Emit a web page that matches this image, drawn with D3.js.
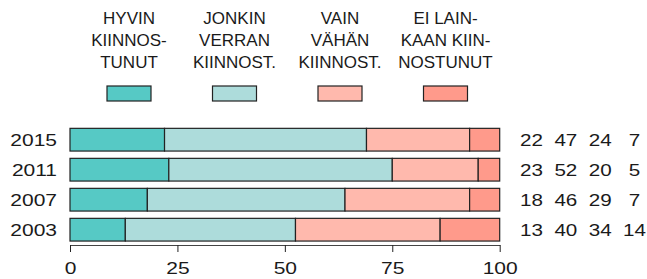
<!DOCTYPE html>
<html>
<head>
<style>
  body { margin: 0; background: #fff; }
  text { font-family: "Liberation Sans", Arial, sans-serif; fill: #1a1a1a; }
</style>
<script src="https://d3js.org/d3.v7.min.js"></script>
</head>
<body>
<script>
const years = ["2015", "2011", "2007", "2003"];
const categories = ["HYVIN KIINNOSTUNUT", "JONKIN VERRAN", "VAIN VÄHÄN", "EI LAINKAAN"];
const legendLines = [
  ["HYVIN", "KIINNOS-", "TUNUT"],
  ["JONKIN", "VERRAN", "KIINNOST."],
  ["VAIN", "VÄHÄN", "KIINNOST."],
  ["EI LAIN-", "KAAN KIIN-", "NOSTUNUT"]
];
const values = [
  [22, 47, 24, 7],
  [23, 52, 20, 5],
  [18, 46, 29, 7],
  [13, 40, 34, 14]
];
const tickValues = [0, 25, 50, 75, 100];
const colors = ["#56c9c5", "#addcdb", "#ffb9ad", "#ff9a8b"];

const w = 647, h = 279;
const stretch = 1.25;

const svg = d3.select("body").append("svg")
  .attr("width", w).attr("height", h);

const x = d3.scaleLinear().domain([0, 100]).range([70, 499.7]);
const y = d3.scaleBand().domain(years).range([124.7, 244.7])
  .paddingInner(0.243).paddingOuter(0.1215);
const color = d3.scaleOrdinal().domain(categories).range(colors);
const legendX = d3.scalePoint().domain(categories).range([129, 445.5]);
const numX = d3.scalePoint().domain(d3.range(4)).range([531.5, 634.5]);

// normalise each row so the segments fill 0..100
const rows = years.map((yr, i) => {
  const total = d3.sum(values[i]);
  let acc = 0;
  return values[i].map((v, j) => {
    const x0 = acc;
    acc += v / total * 100;
    return { year: yr, cat: categories[j], v: v, x0: x0, x1: acc };
  });
});

// bars
svg.append("g").selectAll("g")
  .data(rows).join("g")
  .selectAll("rect")
  .data(d => d).join("rect")
  .attr("x", d => x(d.x0))
  .attr("width", d => x(d.x1) - x(d.x0))
  .attr("y", d => y(d.year))
  .attr("height", y.bandwidth())
  .attr("fill", d => color(d.cat))
  .attr("stroke", "#222")
  .attr("stroke-width", 1.2);

// year labels
svg.append("g").selectAll("text")
  .data(years).join("text")
  .attr("transform", d => `translate(57,${y(d) + y.bandwidth() / 2 + 6}) scale(${stretch},1)`)
  .attr("text-anchor", "end")
  .attr("font-size", 16.8)
  .text(d => d);

// numbers on the right
const numG = svg.append("g").selectAll("g")
  .data(years).join("g");
numG.selectAll("text")
  .data((d, i) => values[i].map((v, j) => ({ year: d, v: v, j: j })))
  .join("text")
  .attr("transform", d => `translate(${numX(d.j)},${y(d.year) + y.bandwidth() / 2 + 6}) scale(${stretch},1)`)
  .attr("text-anchor", "middle")
  .attr("font-size", 16.5)
  .text(d => d.v);

// x axis
const axis = svg.append("g")
  .attr("transform", "translate(0,245)")
  .call(d3.axisBottom(x).tickValues(tickValues).tickSize(7).tickSizeOuter(0));
axis.select(".domain").attr("stroke", "#444");
axis.selectAll(".tick line").attr("stroke", "#222");
axis.selectAll(".tick text")
  .attr("y", 29).attr("dy", 0)
  .attr("font-size", 16.8)
  .attr("font-family", null)
  .attr("fill", "#1a1a1a")
  .attr("transform", `scale(${stretch},1)`);

// legend
const leg = svg.append("g").selectAll("g")
  .data(categories).join("g")
  .attr("transform", d => `translate(${legendX(d)},0)`);
leg.selectAll("text")
  .data((d, i) => legendLines[i])
  .join("text")
  .attr("text-anchor", "middle")
  .attr("y", (d, i) => 24 + i * 22)
  .attr("font-size", 17)
  .text(d => d);
leg.append("rect")
  .attr("x", -22).attr("y", 86)
  .attr("width", 44).attr("height", 15)
  .attr("fill", d => color(d))
  .attr("stroke", "#222")
  .attr("stroke-width", 1.2);
</script>
</body>
</html>
